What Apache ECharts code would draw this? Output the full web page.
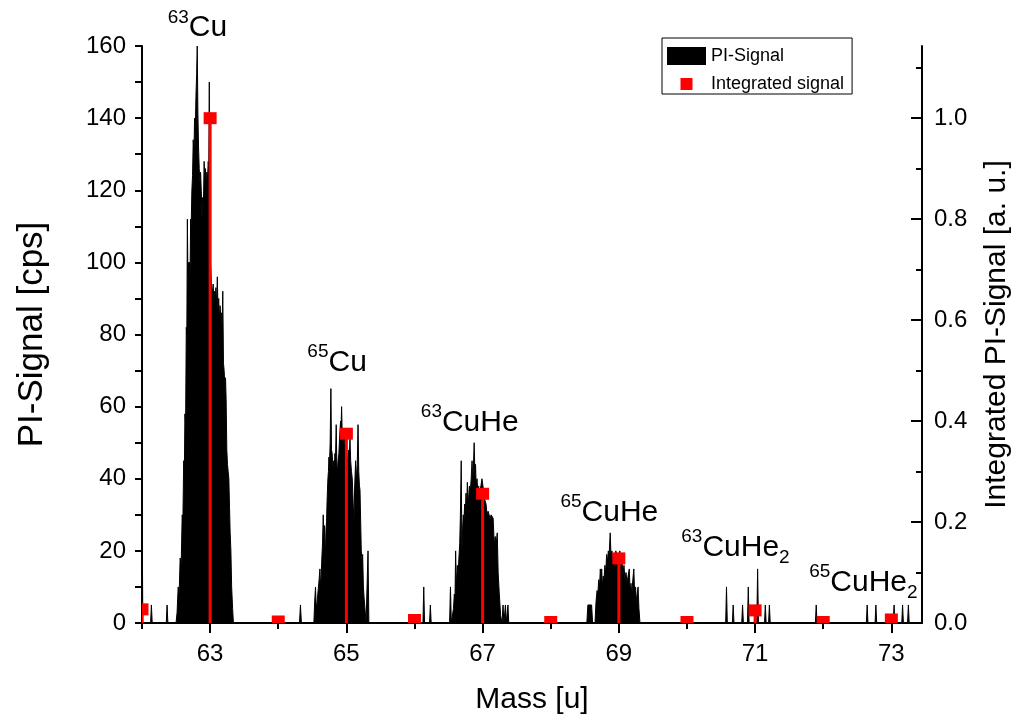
<!DOCTYPE html>
<html>
<head>
<meta charset="utf-8">
<script src="https://cdn.jsdelivr.net/npm/echarts@6/dist/echarts.min.js"></script>
<style>
  html, body { margin: 0; padding: 0; background: #fff; }
  #chart { width: 1016px; height: 722px; }
</style>
</head>
<body>
<div id="chart"></div>
<script>
const FONT = '"Liberation Sans", Arial, Helvetica, sans-serif';

// PI signal [cps] against mass [u], one array per mass region
const edgeSignal = [[62.000,38],[62.012,0],[62.126,0],[62.138,5],[62.150,0],[62.356,0],[62.368,5],[62.380,0]];

const cu63Signal = [[62.500,0],[62.515,3],[62.531,10],[62.545,8],[62.560,18],[62.575,16],[62.590,30],[62.600,28],
  [62.612,45],[62.622,42],[62.630,58],[62.640,55],[62.650,82],[62.658,80],[62.666,112],[62.674,96],[62.682,100],
  [62.690,95],[62.698,100],[62.706,97],[62.714,112],[62.722,110],[62.732,120],[62.742,124],[62.752,134],[62.762,130],
  [62.772,140],[62.782,136],[62.792,146],[62.802,152],[62.811,160],[62.820,142],[62.830,132],[62.840,126],[62.850,122],
  [62.860,125],[62.870,120],[62.880,112],[62.890,118],[62.900,114],[62.912,128],[62.922,122],[62.932,126],[62.942,120],
  [62.952,125],[62.962,123],[62.972,128],[62.980,126],[62.988,150],[62.996,118],[63.005,100],[63.015,96],[63.025,90],
  [63.035,92],[63.045,94],[63.055,88],[63.065,92],[63.075,90],[63.085,93],[63.095,88],[63.106,96],[63.116,86],
  [63.126,90],[63.136,84],[63.146,88],[63.156,85],[63.166,86],[63.176,82],[63.186,92],[63.196,72],[63.206,70],
  [63.216,66],[63.226,68],[63.235,62],[63.245,48],[63.255,44],[63.265,42],[63.275,40],[63.285,32],[63.294,25],
  [63.305,20],[63.316,10],[63.330,4],[63.342,0]];

const cu65Signal = [[64.312,0],[64.326,5],[64.340,0],[64.523,0],[64.535,6],[64.547,10],[64.558,4],[64.572,6],
  [64.585,9],[64.600,12],[64.612,15],[64.622,10],[64.631,13],[64.640,18],[64.650,22],[64.660,30],[64.670,24],
  [64.680,27],[64.687,22],[64.694,20],[64.702,26],[64.709,28],[64.717,34],[64.729,40],[64.737,42],[64.744,46],
  [64.752,44],[64.762,50],[64.773,65],[64.782,48],[64.792,47],[64.804,43],[64.817,45],[64.824,43],[64.831,47],
  [64.841,46],[64.851,55],[64.859,45],[64.866,41],[64.878,45],[64.890,47],[64.902,52],[64.915,56],[64.922,54],
  [64.930,60],[64.940,52],[64.952,50],[64.964,52],[64.976,50],[64.989,48],[65.000,47],[65.013,46],[65.025,45],
  [65.035,48],[65.045,47],[65.053,51],[65.063,45],[65.075,42],[65.087,40],[65.100,33],[65.111,28],[65.122,38],
  [65.136,45],[65.148,40],[65.160,44],[65.171,55],[65.182,42],[65.192,38],[65.200,37],[65.210,28],[65.219,20],
  [65.230,17],[65.239,19],[65.250,10],[65.260,7],[65.269,5],[65.289,0],[65.306,0],[65.318,20],[65.330,0]];

const cuHe63Signal = [[66.124,0],[66.136,10],[66.148,0],[66.221,0],[66.233,5],[66.245,0],[66.515,0],[66.528,10],
  [66.541,0],[66.560,0],[66.572,4],[66.585,8],[66.594,6],[66.604,20],[66.614,10],[66.628,16],[66.640,13],[66.652,18],
  [66.664,22],[66.674,30],[66.686,45],[66.696,20],[66.706,26],[66.716,30],[66.726,28],[66.736,33],[66.746,30],
  [66.756,36],[66.766,32],[66.776,39],[66.786,34],[66.796,35],[66.806,38],[66.818,36],[66.832,40],[66.845,45],
  [66.855,40],[66.863,42],[66.876,50],[66.886,42],[66.896,44],[66.906,38],[66.918,40],[66.930,36],[66.942,38],
  [66.952,34],[66.962,37],[66.975,38],[66.990,40],[67.005,38],[67.020,36],[67.035,34],[67.050,33],[67.065,30],
  [67.080,31],[67.095,30],[67.110,29],[67.125,30],[67.140,30],[67.155,29],[67.170,22],[67.185,24],[67.200,22],
  [67.215,25],[67.228,14],[67.245,8],[67.265,2],[67.285,0],[67.300,5],[67.312,0],[67.323,0],[67.335,5],[67.347,0],
  [67.360,0],[67.372,5],[67.384,0]];

const cuHe65Signal = [[68.530,0],[68.545,5],[68.600,5],[68.615,0],[68.650,0],[68.665,6],[68.680,9],[68.692,8],
  [68.704,12],[68.716,10],[68.728,15],[68.738,11],[68.748,15],[68.758,10],[68.770,13],[68.782,12],[68.795,16],
  [68.808,14],[68.820,19],[68.832,17],[68.845,20],[68.858,19],[68.873,25],[68.886,18],[68.898,20],[68.912,17],
  [68.925,19],[68.940,18],[68.955,20],[68.970,19],[68.985,18],[69.000,18],[69.015,20],[69.030,15],[69.045,18],
  [69.060,13],[69.075,16],[69.090,12],[69.105,14],[69.120,11],[69.135,13],[69.153,15],[69.165,9],[69.178,11],
  [69.190,8],[69.205,12],[69.220,15],[69.232,8],[69.245,10],[69.258,6],[69.270,8],[69.282,10],[69.295,4],[69.310,0]];

const cuHe2Signal = [[70.568,0],[70.580,10],[70.592,0],[70.666,0],[70.678,5],[70.690,0],[70.804,0],[70.816,5],
  [70.828,0],[70.888,0],[70.900,10],[70.912,0],[71.025,0],[71.037,15],[71.049,0],[71.138,0],[71.150,5],[71.162,0],
  [71.198,0],[71.210,5],[71.222,0]];

const tailSignal = [[71.885,0],[71.897,5],[71.909,0],[72.633,0],[72.645,5],[72.657,0],[72.761,0],[72.773,5],
  [72.785,0],[73.028,0],[73.040,5],[73.052,0],[73.153,0],[73.165,5],[73.177,0],[73.238,0],[73.250,5],[73.262,0],
  [73.450,0]];

const piSignal = [].concat(edgeSignal, cu63Signal, cu65Signal, cuHe63Signal, cuHe65Signal, cuHe2Signal, tailSignal);

// Integrated PI signal [a. u.] at each nominal mass
const integratedMass  = [62, 63, 64, 65, 66, 67, 68, 69, 70, 71, 72, 73];
const integratedValue = [0.027, 1.0, 0.003, 0.375, 0.006, 0.256, 0.002, 0.128, 0.002, 0.025, 0.002, 0.007];

// Tick positions
const massMajorTicks = [63, 65, 67, 69, 71, 73];
const massMinorTicks = [62, 64, 66, 68, 70, 72];
const integMajorTicks = [0, 0.2, 0.4, 0.6, 0.8, 1.0];
const integMinorTicks = [0.1, 0.3, 0.5, 0.7, 0.9, 1.1];

// Peak assignments, anchored at (mass, cps)
const peakLabels = [
  { iso: '63', formula: 'Cu',   sub: '',  mass: 62.814, cps: 165.0 },
  { iso: '65', formula: 'Cu',   sub: '',  mass: 64.864, cps: 72.2 },
  { iso: '63', formula: 'CuHe', sub: '',  mass: 66.811, cps: 55.6 },
  { iso: '65', formula: 'CuHe', sub: '',  mass: 68.861, cps: 30.6 },
  { iso: '63', formula: 'CuHe', sub: '2', mass: 70.712, cps: 20.9 },
  { iso: '65', formula: 'CuHe', sub: '2', mass: 72.590, cps: 11.2 }
];

const black = '#000000';
const red = '#ff0000';
const axisLine = { show: true, lineStyle: { color: black, width: 2 } };

const chart = echarts.init(document.getElementById('chart'), null, { renderer: 'canvas' });

chart.setOption({
  animation: false,
  backgroundColor: '#ffffff',
  textStyle: { fontFamily: FONT, color: black },
  grid: { left: 142, right: 94, top: 46, bottom: 99, containLabel: false, outerBoundsMode: 'none' },
  legend: {
    orient: 'vertical',
    left: 662, top: 38,
    padding: [9, 8, 1, 5],
    itemGap: 10,
    itemWidth: 39, itemHeight: 18,
    borderColor: black, borderWidth: 1,
    textStyle: { fontFamily: FONT, fontSize: 18, color: black },
    data: [
      { name: 'PI-Signal', icon: 'rect', itemStyle: { color: black } },
      { name: 'Integrated signal', icon: 'path://M0,0M18,18M3,3h12v12h-12z', itemStyle: { color: red } }
    ]
  },
  xAxis: [
    {
      type: 'value', min: 62, max: 73.45, position: 'bottom',
      axisLine: axisLine,
      axisTick: { show: true, customValues: massMajorTicks, length: 10, lineStyle: { color: black, width: 2 } },
      axisLabel: { customValues: massMajorTicks, fontSize: 24, color: black, margin: 19, fontFamily: FONT },
      splitLine: { show: false },
      name: 'Mass [u]', nameLocation: 'middle', nameGap: 62,
      nameTextStyle: { fontSize: 30, color: black, fontFamily: FONT }
    },
    {
      type: 'value', min: 62, max: 73.45, position: 'bottom',
      axisLine: { show: false },
      axisTick: { show: true, customValues: massMinorTicks, length: 6, lineStyle: { color: black, width: 2 } },
      axisLabel: { show: false },
      splitLine: { show: false }
    }
  ],
  yAxis: [
    {
      type: 'value', min: 0, max: 160, interval: 20, position: 'left',
      axisLine: axisLine,
      axisTick: { show: true, length: 7, lineStyle: { color: black, width: 2 } },
      minorTick: { show: true, splitNumber: 2, length: 7, lineStyle: { color: black, width: 2 } },
      axisLabel: { fontSize: 24, color: black, margin: 16, fontFamily: FONT },
      splitLine: { show: false }, minorSplitLine: { show: false },
      name: 'PI-Signal [cps]', nameLocation: 'middle', nameGap: 92, nameRotate: 90,
      nameTextStyle: { fontSize: 35, color: black, fontFamily: FONT }
    },
    {
      type: 'value', min: 0, max: 1.143, position: 'right',
      axisLine: axisLine,
      axisTick: { show: true, inside: true, customValues: integMajorTicks, length: 11, lineStyle: { color: black, width: 2 } },
      axisLabel: { customValues: integMajorTicks, formatter: v => v.toFixed(1), fontSize: 24, color: black, margin: 12, fontFamily: FONT },
      splitLine: { show: false },
      name: 'Integrated PI-Signal [a. u.]', nameLocation: 'middle', nameGap: 60, nameRotate: 90,
      nameTextStyle: { fontSize: 30, color: black, fontFamily: FONT }
    },
    {
      type: 'value', min: 0, max: 1.143, position: 'right',
      axisLine: { show: false },
      axisTick: { show: true, inside: true, customValues: integMinorTicks, length: 6, lineStyle: { color: black, width: 2 } },
      axisLabel: { show: false },
      splitLine: { show: false }
    }
  ],
  series: [
    {
      name: 'PI-Signal',
      type: 'line',
      xAxisIndex: 0, yAxisIndex: 0,
      data: piSignal,
      symbol: 'none', showSymbol: false,
      lineStyle: { color: black, width: 1 },
      areaStyle: { color: black, opacity: 1 },
      itemStyle: { color: black },
      clip: true,
      z: 2
    },
    {
      name: 'Integrated signal',
      type: 'custom',
      xAxisIndex: 0, yAxisIndex: 1,
      data: integratedMass.map((m, i) => [m, integratedValue[i]]),
      encode: { x: 0, y: 1 },
      itemStyle: { color: red },
      clip: true,
      z: 3,
      renderItem: function (params, api) {
        const top = api.coord([api.value(0), api.value(1)]);
        const base = api.coord([api.value(0), 0]);
        return {
          type: 'group',
          children: [
            { type: 'line', shape: { x1: top[0], y1: top[1], x2: base[0], y2: base[1] },
              style: { stroke: red, lineWidth: 3 } },
            { type: 'rect', shape: { x: top[0] - 6.5, y: top[1] - 6, width: 13, height: 12 },
              style: { fill: red } }
          ]
        };
      }
    },
    {
      name: 'assignments',
      type: 'scatter',
      xAxisIndex: 0, yAxisIndex: 0,
      symbolSize: 0,
      silent: true,
      clip: false,
      z: 5,
      data: peakLabels.map(d => [d.mass, d.cps]),
      label: {
        show: true,
        position: 'inside',
        color: black,
        opacity: 1,
        textBorderWidth: 0,
        formatter: function (p) {
          const d = peakLabels[p.dataIndex];
          return '{sup|' + d.iso + '}{main|' + d.formula + '}' + (d.sub ? '{sub|' + d.sub + '}' : '');
        },
        rich: {
          sup:  { fontSize: 19, lineHeight: 20, verticalAlign: 'top', color: black, fontFamily: FONT, textBorderWidth: 0 },
          main: { fontSize: 30, lineHeight: 40, verticalAlign: 'middle', color: black, fontFamily: FONT, textBorderWidth: 0 },
          sub:  { fontSize: 19, lineHeight: 10, verticalAlign: 'bottom', color: black, fontFamily: FONT, textBorderWidth: 0 }
        }
      }
    }
  ]
});
</script>
</body>
</html>
